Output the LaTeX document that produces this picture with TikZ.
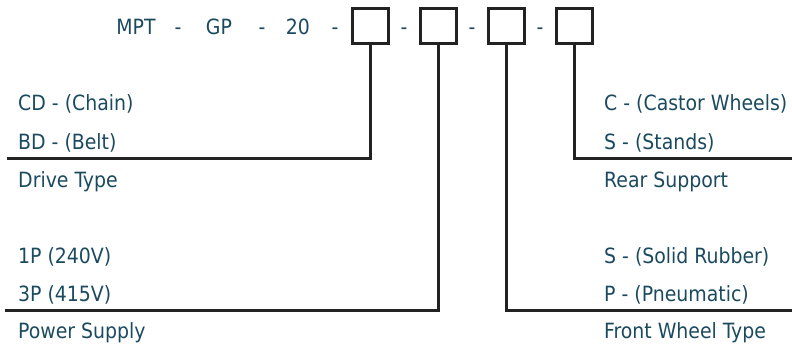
\documentclass[tikz,border=0pt]{standalone}
\usepackage{fontspec}
\setmainfont{DejaVu Sans Condensed}
\definecolor{txt}{HTML}{1B4A5F}
\definecolor{ln}{HTML}{222222}
\begin{document}
\begin{tikzpicture}[x=1pt,y=-1pt,
  lbl/.style={anchor=base west,inner sep=0pt,text=txt,font=\fontsize{21}{21}\selectfont},
  code/.style={anchor=base,inner sep=0pt,text=txt,font=\fontsize{21}{21}\selectfont},
  slot/.style={draw=ln,line width=3pt,minimum width=36pt,minimum height=35pt,inner sep=0pt},
  conn/.style={draw=ln,line width=3pt}]
\useasboundingbox (0,0) rectangle (792,343);
% code line
\node[code] (mpt) at (136,34) {MPT};
\node[code] (d1) at (178,34) {-};
\node[code] (gp) at (219,34) {GP};
\node[code] (d2) at (262,34) {-};
\node[code] (n20) at (298,34) {20};
\node[code] (d3) at (335,34) {-};
\node[slot] (b1) at (370,25.5) {};
\node[slot] (b2) at (438,25.5) {};
\node[slot] (b3) at (506,25.5) {};
\node[slot] (b4) at (574,25.5) {};
\node[code] (d4) at (404,34) {-};
\node[code] (d5) at (472,34) {-};
\node[code] (d6) at (540,34) {-};
% corner coordinates
\coordinate (c1) at (370,158);
\coordinate (e1) at (7,158);
\coordinate (c2) at (574,158);
\coordinate (e2) at (792,158);
\coordinate (c3) at (438,310);
\coordinate (e3) at (5,310);
\coordinate (c4) at (506,310);
\coordinate (e4) at (792,310);
\draw[conn] (b1.south) -- (c1) -- (e1);
\draw[conn] (b4.south) -- (c2) -- (e2);
\draw[conn] (b2.south) -- (c3) -- (e3);
\draw[conn] (b3.south) -- (c4) -- (e4);
% left labels
\node[lbl] (cd) at (18,110) {CD - (Chain)};
\node[lbl] (bd) at (18,149) {BD - (Belt)};
\node[lbl] (dt) at (18,187) {Drive Type};
\node[lbl] (p1) at (18,263) {1P (240V)};
\node[lbl] (p3) at (18,301) {3P (415V)};
\node[lbl] (ps) at (18,338) {Power Supply};
% right labels
\node[lbl] (cw) at (604,110) {C - (Castor Wheels)};
\node[lbl] (st) at (604,149) {S - (Stands)};
\node[lbl] (rs) at (604,187) {Rear Support};
\node[lbl] (sr) at (604,263) {S - (Solid Rubber)};
\node[lbl] (pn) at (604,301) {P - (Pneumatic)};
\node[lbl] (fw) at (604,338) {Front Wheel Type};
\end{tikzpicture}
\end{document}
